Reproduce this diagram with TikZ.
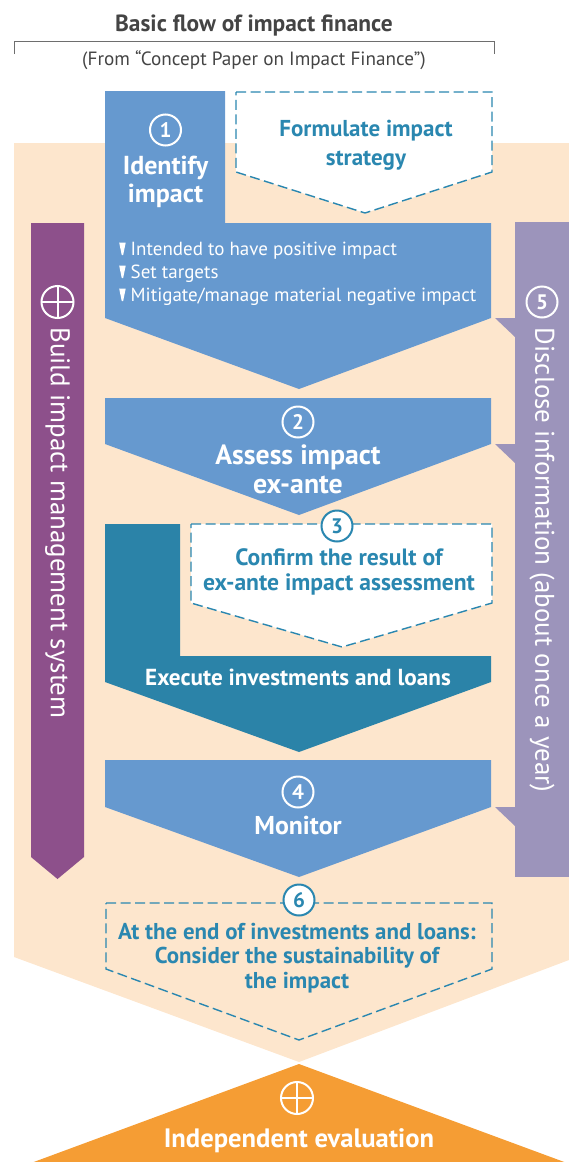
\documentclass[tikz,border=0pt]{standalone}
\usepackage{fontspec}
\setmainfont{PT Sans}
\usetikzlibrary{calc}

\definecolor{peach}{HTML}{FDE6CD}
\definecolor{stepblue}{HTML}{6699CF}
\definecolor{execteal}{HTML}{2B83A8}
\definecolor{dashteal}{HTML}{2A87B0}
\definecolor{buildpurple}{HTML}{8D508B}
\definecolor{disclav}{HTML}{9C94BB}
\definecolor{evalorange}{HTML}{F59D34}
\definecolor{titlegray}{HTML}{444444}
\definecolor{rulegray}{HTML}{6E6E6E}

% small downward bullet used in the list of step 1
\newcommand\downbul{\tikz[baseline=0pt,x=1pt,y=1pt]\fill[white] (0,13)--(6.5,13)--(3.9,0.5)--(2.6,0.5)--cycle;\hspace{5pt}}

\begin{document}
\begin{tikzpicture}[x=1pt,y=-1pt,
  rfs/.style 2 args={font=\fontsize{#1}{#2}\selectfont},
  bfs/.style 2 args={font=\bfseries\fontsize{#1}{#2}\selectfont},
  steplabel/.style={text=white, align=center, inner sep=0pt},
  dashlabel/.style={text=dashteal, align=center, inner sep=0pt},
  dashbox/.style={draw=dashteal, line width=1.4pt, dash pattern=on 10pt off 4.5pt},
  numcirc/.style={circle, draw=white, line width=2pt, minimum size=31pt, inner sep=0pt,
                  text=white, font=\bfseries\fontsize{21}{21}\selectfont},
  numcircd/.style={numcirc, draw=dashteal, fill=white, text=dashteal},
  pluscirc/.style={circle, draw=white, line width=2pt, minimum size=32pt, inner sep=0pt, outer sep=0pt},
]
\useasboundingbox (0,0) rectangle (569,1162);

% ---- heading ----
\node[bfs={23.4}{26}, text=titlegray, inner sep=0pt] (title) at (254,25.5) {Basic flow of impact finance};
\draw[rulegray, line width=1pt] (14,54) -- (14,41) -- (494,41) -- (494,54);
\node[rfs={19.2}{22}, text=titlegray, inner sep=0pt] (source) at (254,60) {(From “Concept Paper on Impact Finance”)};

% ---- background band and final evaluation ----
\fill[peach] (14,143) -- (569,143) -- (569,960) -- (299,1062) -- (14,957) -- cycle;
\fill[evalorange] (299,1064) -- (567,1163) -- (31,1163) -- cycle;

% ---- side bars ----
\fill[buildpurple] (31,223) -- (84,223) -- (84,857) -- (57.5,879) -- (31,857) -- cycle;
\fill[disclav] (515,222) -- (569,222) -- (569,877) -- (515,877) -- cycle;
\fill[disclav] (515,318) -- (495,318) -- (515,337) -- cycle;
\fill[disclav] (515,444) -- (495,444) -- (515,463) -- cycle;
\fill[disclav] (515,807) -- (495,807) -- (515,826) -- cycle;

% ---- step 1 ----
\fill[stepblue] (105,91) -- (225,91) -- (225,223) -- (491,223) -- (491,318) -- (299,389) -- (105,318) -- cycle;
\draw[dashbox, fill=white] (236,92) -- (492,92) -- (492,172) -- (365,213) -- (236,172) -- cycle;
\node[numcirc] (n1) at (165.5,130) {1};
\node[steplabel, bfs={26}{28}] (s1) at (165.5,182) {Identify\\impact};
\node[dashlabel, bfs={23}{29}] (strategy) at (366,145) {Formulate impact\\strategy};
\node[text=white, align=left, inner sep=0pt, anchor=west, rfs={19}{23}] (bullets) at (119,274)
  {\downbul Intended to have positive impact\\\downbul Set targets\\\downbul Mitigate/manage material negative impact};

% ---- step 2 ----
\fill[stepblue] (105,398) -- (491,398) -- (491,444) -- (299,515) -- (105,444) -- cycle;
\node[numcirc] (n2) at (298,422) {2};
\node[steplabel, bfs={27.8}{29}] (s2) at (298,469) {Assess impact\\ex-ante};

% ---- step 3 ----
\fill[execteal] (105,524) -- (180,524) -- (180,656) -- (491,656) -- (491,682) -- (299,752) -- (105,682) -- cycle;
\draw[dashbox, fill=white] (191,524) -- (492,524) -- (492,603) -- (342,647) -- (191,603) -- cycle;
\node[numcircd] (n3) at (337,526) {3};
\node[dashlabel, bfs={23.6}{25}] (s3) at (339,572) {Confirm the result of\\ex-ante impact assessment};
\node[steplabel, bfs={23.2}{24}] (exec) at (298,677) {Execute investments and loans};

% ---- step 4 ----
\fill[stepblue] (105,760) -- (491,760) -- (491,807) -- (299,877) -- (105,807) -- cycle;
\node[numcirc] (n4) at (298,792) {4};
\node[steplabel, bfs={25.8}{28}] (s4) at (298,825) {Monitor};

% ---- step 6 ----
\draw[dashbox] (106,903) -- (492,903) -- (492,969) -- (299,1040) -- (106,969) -- cycle;
\node[numcircd] (n6) at (299,900) {6};
\node[dashlabel, bfs={22.9}{24.5}] (s6) at (297,958)
  {At the end of investments and loans:\\Consider the sustainability of\\the impact};

% ---- independent evaluation ----
\node[pluscirc] (pe) at (297,1098) {};
\draw[white, line width=2pt] (pe.north) -- (pe.south) (pe.west) -- (pe.east);
\node[steplabel, bfs={26.6}{28}] (eval) at (299,1141) {Independent evaluation};

% ---- side bar labels ----
\node[pluscirc] (pb) at (57.5,302) {};
\draw[white, line width=2pt] (pb.north) -- (pb.south) (pb.west) -- (pb.east);
\node[steplabel, rfs={27}{30}, rotate=-90] (build) at (57.5,523) {Build impact management system};
\node[numcirc] (n5) at (542,302) {5};
\node[steplabel, rfs={27}{30}, rotate=-90] (disc) at (542,560) {Disclose information (about once a year)};
\end{tikzpicture}
\end{document}
